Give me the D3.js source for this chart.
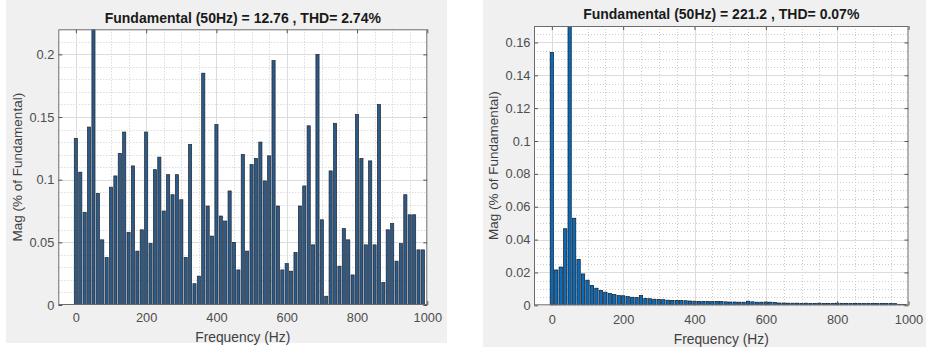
<!DOCTYPE html>
<html>
<head>
<meta charset="utf-8">
<script src="https://cdn.jsdelivr.net/npm/d3@7"></script>
<style>
  html, body { margin: 0; padding: 0; background: #ffffff; }
  svg { display: block; }
  text { font-family: "Liberation Sans", Arial, Helvetica, sans-serif; }
</style>
</head>
<body>
<svg id="chart" width="926" height="347"></svg>
<script>
// ---------- DATA ----------
const freqs = [0,12.5,25,37.5,50,62.5,75,87.5,100,112.5,125,137.5,150,162.5,175,187.5,
  200,212.5,225,237.5,250,262.5,275,287.5,300,312.5,325,337.5,350,362.5,375,387.5,
  400,412.5,425,437.5,450,462.5,475,487.5,500,512.5,525,537.5,550,562.5,575,587.5,
  600,612.5,625,637.5,650,662.5,675,687.5,700,712.5,725,737.5,750,762.5,775,787.5,
  800,812.5,825,837.5,850,862.5,875,887.5,900,912.5,925,937.5,950,962.5,975,987.5];

// left spectrum (% of fundamental); the 50 Hz fundamental is 100 % and clipped by the axes
const magLeft = [0.133,0.106,0.074,0.142,100,0.089,0.052,0.038,0.094,0.103,
  0.121,0.138,0.058,0.111,0.043,0.060,0.138,0.049,0.108,0.118,
  0.075,0.104,0.088,0.104,0.084,0.038,0.128,0.017,0.023,0.185,
  0.079,0.055,0.144,0.071,0.067,0.091,0.050,0.028,0.120,0.043,
  0.112,0.117,0.130,0.099,0.119,0.195,0.079,0.028,0.033,0.027,
  0.042,0.079,0.095,0.143,0.048,0.200,0.068,0.007,0.107,0.145,
  0.031,0.061,0.052,0.024,0.152,0.117,0.048,0.115,0.048,0.160,
  0.018,0.060,0.065,0.035,0.049,0.088,0.072,0.072,0.044,0.044];

// right spectrum
const magRight = [0.154,0.0215,0.0233,0.0466,100,0.053,0.0279,0.0191,0.0153,0.0121,
  0.0104,0.0091,0.0080,0.0072,0.0065,0.0059,0.0058,0.0053,0.0049,0.0047,
  0.0059,0.0042,0.0040,0.0037,0.0036,0.0034,0.0031,0.0030,0.0030,0.0029,
  0.0028,0.0026,0.0025,0.0024,0.0024,0.0023,0.0023,0.0024,0.0023,0.0021,
  0.0020,0.0020,0.0019,0.0019,0.0025,0.0021,0.0019,0.0019,0.0020,0.0019,
  0.0018,0.0014,0.0014,0.0013,0.0013,0.0013,0.0012,0.0013,0.0012,0.0012,
  0.0013,0.0012,0.0012,0.0012,0.0013,0.0012,0.0012,0.0011,0.0012,0.0012,
  0.0011,0.0012,0.0012,0.0011,0.0012,0.0011,0.0011,0.0010,0.0006,0.0005];

const xTicks = [0,200,400,600,800,1000];
const yTicksLeft = [0,0.05,0.1,0.15,0.2];
const yTicksRight = [0,0.02,0.04,0.06,0.08,0.1,0.12,0.14,0.16];
const titleLeft = "Fundamental (50Hz) = 12.76 , THD= 2.74%";
const titleRight = "Fundamental (50Hz) = 221.2 , THD= 0.07%";
const xLabel = "Frequency (Hz)";
const yLabel = "Mag (% of Fundamental)";

// ---------- DRAW ----------
const svg = d3.select("#chart");

function panel(cfg) {
  const g = svg.append("g");
  // figure background
  g.append("rect").attr("x", cfg.fig[0]).attr("y", cfg.fig[1])
    .attr("width", cfg.fig[2]).attr("height", cfg.fig[3]).attr("fill", "#f0f0f0");

  const x = d3.scaleLinear().domain([-50, 1000]).range([cfg.x0, cfg.x1]);
  const y = d3.scaleLinear().domain([0, cfg.ymax]).range([cfg.y1, cfg.y0]);

  // plot background
  g.append("rect").attr("x", cfg.x0).attr("y", cfg.y0)
    .attr("width", cfg.x1 - cfg.x0).attr("height", cfg.y1 - cfg.y0).attr("fill", "#ffffff");

  // minor grid
  const minorX = d3.range(-50, 1001, 50).filter(v => v % 200 !== 0 && v > -50 && v < 1000);
  const minorY = d3.range(0, cfg.ymax + 1e-9, cfg.yMinor)
    .filter(v => !cfg.yTicks.some(t => Math.abs(t - v) < 1e-9) && v > 0 && v < cfg.ymax - 1e-9);
  g.append("g").selectAll("line").data(minorX).join("line")
    .attr("x1", d => Math.round(x(d)) + 0.5).attr("x2", d => Math.round(x(d)) + 0.5)
    .attr("y1", cfg.y0).attr("y2", cfg.y1)
    .attr("stroke", "#cdcdcd").attr("stroke-width", 1).attr("stroke-dasharray", "1,2");
  g.append("g").selectAll("line").data(minorY).join("line")
    .attr("y1", d => Math.round(y(d)) + 0.5).attr("y2", d => Math.round(y(d)) + 0.5)
    .attr("x1", cfg.x0).attr("x2", cfg.x1)
    .attr("stroke", "#cdcdcd").attr("stroke-width", 1).attr("stroke-dasharray", "1,2");
  // major grid
  g.append("g").selectAll("line").data(xTicks.filter(v => v < 1000)).join("line")
    .attr("x1", d => Math.round(x(d)) + 0.5).attr("x2", d => Math.round(x(d)) + 0.5)
    .attr("y1", cfg.y0).attr("y2", cfg.y1)
    .attr("stroke", "#dcdcdc").attr("stroke-width", 1);
  g.append("g").selectAll("line").data(cfg.yTicks.filter(v => v > 0)).join("line")
    .attr("y1", d => Math.round(y(d)) + 0.5).attr("y2", d => Math.round(y(d)) + 0.5)
    .attr("x1", cfg.x0).attr("x2", cfg.x1)
    .attr("stroke", "#dcdcdc").attr("stroke-width", 1);

  // bars, clipped to the axes
  const clipId = "clip" + cfg.id;
  svg.append("clipPath").attr("id", clipId).append("rect")
    .attr("x", cfg.x0).attr("y", cfg.y0).attr("width", cfg.x1 - cfg.x0).attr("height", cfg.y1 - cfg.y0);
  const bw = (x(12.5) - x(0)) * cfg.barFrac;
  const data = freqs.map((f, i) => ({ f, v: cfg.values[i] }));
  g.append("g").attr("clip-path", `url(#${clipId})`)
    .selectAll("rect").data(data).join("rect")
    .attr("x", d => x(d.f) - bw / 2)
    .attr("width", bw)
    .attr("y", d => y(d.v))
    .attr("height", d => Math.max(0, y(0) - y(d.v)))
    .attr("fill", cfg.fill).attr("stroke", cfg.stroke).attr("stroke-width", 0.7);

  // axes (ticks inside)
  const fmt = d => d3.format("~g")(d);
  const ax = g.append("g").attr("transform", `translate(0,${cfg.y1})`)
    .call(d3.axisBottom(x).tickValues(xTicks).tickSize(-4).tickPadding(cfg.xPad).tickFormat(fmt));
  const ay = g.append("g").attr("transform", `translate(${cfg.x0},0)`)
    .call(d3.axisLeft(y).tickValues(cfg.yTicks).tickSize(-4).tickPadding(cfg.yPad).tickFormat(fmt));
  const at = g.append("g").attr("transform", `translate(0,${cfg.y0})`)
    .call(d3.axisTop(x).tickValues(xTicks).tickSize(-4).tickFormat(""));
  const ar = g.append("g").attr("transform", `translate(${cfg.x1},0)`)
    .call(d3.axisRight(y).tickValues(cfg.yTicks).tickSize(-4).tickFormat(""));
  [ax, ay, at, ar].forEach(a => {
    a.select(".domain").remove();
    a.selectAll(".tick line").attr("stroke", "#555");
    a.selectAll("text").attr("fill", "#4d4d4d").style("font-size", "12.8px")
      .style("font-family", '"Liberation Sans", Arial, sans-serif');
  });

  // box
  g.append("rect").attr("x", cfg.x0 + 0.5).attr("y", cfg.y0 + 0.5)
    .attr("width", cfg.x1 - cfg.x0 - 1).attr("height", cfg.y1 - cfg.y0 - 1)
    .attr("fill", "none").attr("stroke", "#6b6b6b").attr("stroke-width", 1);

  const cx = (cfg.x0 + cfg.x1) / 2;
  // title
  g.append("text").attr("x", cx).attr("y", cfg.titleY)
    .attr("text-anchor", "middle").attr("font-weight", "bold")
    .style("font-size", "14px").attr("fill", "#1a1a1a").text(cfg.title);
  // x label
  g.append("text").attr("x", cx).attr("y", cfg.xLabelY).attr("dy", "0.35em")
    .attr("text-anchor", "middle").style("font-size", "13.8px").attr("fill", "#404040").text(xLabel);
  // y label
  g.append("text")
    .attr("transform", `translate(${cfg.yLabelX},${(cfg.y0 + cfg.y1) / 2}) rotate(-90)`)
    .attr("dy", "0.35em").attr("text-anchor", "middle")
    .style("font-size", "13.5px").attr("fill", "#404040").text(yLabel);
}

panel({
  id: "L", fig: [6, 0, 441, 343],
  x0: 58.3, x1: 427.3, y0: 29.3, y1: 305,
  ymax: 0.22, yTicks: yTicksLeft, yMinor: 0.01,
  values: magLeft, fill: "#2d5a86", stroke: "#1e2631", barFrac: 0.72,
  xPad: 8, yPad: 4, title: titleLeft, titleY: 23, xLabelY: 337.5, yLabelX: 17.3
});
panel({
  id: "R", fig: [483, 0, 443, 347],
  x0: 534, x1: 908.5, y0: 26, y1: 305.3,
  ymax: 0.17, yTicks: yTicksRight, yMinor: 0.005,
  values: magRight, fill: "#0a6bbd", stroke: "#101820", barFrac: 0.75,
  xPad: 10, yPad: 3.5, title: titleRight, titleY: 19, xLabelY: 339.3, yLabelX: 493.3
});
</script>
</body>
</html>
